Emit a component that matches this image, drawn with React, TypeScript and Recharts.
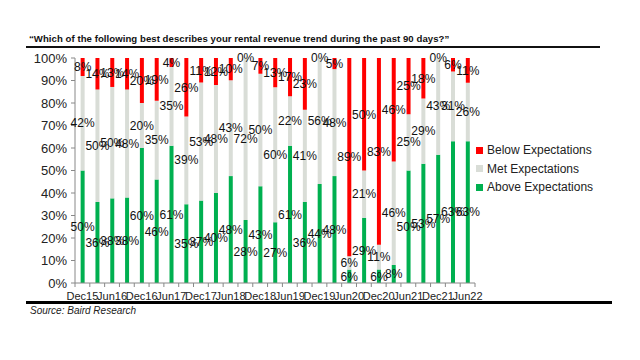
import React from "react";
import { BarChart, Bar, XAxis, YAxis, LabelList } from "recharts";

const categories = ["Dec15","Mar16","Jun16","Sep16","Dec16","Mar17","Jun17","Sep17","Dec17","Mar18","Jun18","Sep18","Dec18","Mar19","Jun19","Sep19","Dec19","Mar20","Jun20","Sep20","Dec20","Mar21","Jun21","Sep21","Dec21","Mar22","Jun22"];
const above = [50,36,38,38,60,46,61,35,37,40,48,28,43,27,61,36,44,48,6,29,6,8,50,53,57,63,63];
const met = [42,50,50,48,20,35,35,39,53,48,43,72,50,60,22,41,56,48,6,21,11,46,25,29,43,31,26];
const below = [8,14,13,14,20,19,4,26,11,12,10,0,7,13,17,23,0,5,89,50,83,46,25,18,0,6,11];
const yTicks = [0,0.1,0.2,0.3,0.4,0.5,0.6,0.7,0.8,0.9,1];
const seriesNames = ["Below Expectations", "Met Expectations", "Above Expectations"];

const data = categories.map((c, i) => ({ cat: c, above: above[i], met: met[i], below: below[i] }));

const FONT = "'Liberation Sans', Arial, sans-serif";
const GREEN = "#00B050";
const GREY = "#D9DDD7";
const RED = "#FF0000";
const legendColors = [RED, GREY, GREEN];

const X_H = 30;
const M = { top: 58, right: 165, bottom: 77 - X_H, left: 25 };
const Y_W = 50;
const W = 640, H = 360;
const step = (W - M.left - M.right - Y_W) / categories.length;

const XTick = (props: any) => {
  const { x, y, payload, index } = props;
  const last = index === categories.length - 1;
  return (
    <g>
      <line x1={x - step / 2} x2={x - step / 2} y1={y} y2={y + 4} stroke="#888" />
      {last && <line x1={x + step / 2} x2={x + step / 2} y1={y} y2={y + 4} stroke="#888" />}
      {index % 2 === 0 && (
        <text x={x} y={y + 17} textAnchor="middle" fontSize={11} fill="#222" fontFamily={FONT}>
          {payload.value}
        </text>
      )}
    </g>
  );
};

const fmt = (v: any) => `${v}%`;

// Met label, plus a "0%" label at the top for bars whose "below" segment is zero
const MetLabel = (props: any) => {
  const { x, y, width, height, value, index } = props;
  const cx = x + width / 2;
  return (
    <g>
      <text x={cx} y={y + height / 2} textAnchor="middle" dominantBaseline="central" fontSize={12} fill="#111" fontFamily={FONT}>
        {`${value}%`}
      </text>
      {below[index] === 0 && (
        <text x={cx} y={y} textAnchor="middle" dominantBaseline="central" fontSize={12} fill="#111" fontFamily={FONT}>
          {`${below[index]}%`}
        </text>
      )}
    </g>
  );
};

export default function App() {
  return (
    <div style={{ position: "absolute", left: 0, top: 0, width: W, height: H, background: "#fff", fontFamily: FONT }}>
      <div style={{ position: "absolute", left: 29, top: 33, fontSize: 9.6, fontWeight: "bold", color: "#111", whiteSpace: "nowrap", letterSpacing: 0.05 }}>
        “Which of the following best describes your rental revenue trend during the past 90 days?”
      </div>
      <div style={{ position: "absolute", left: 26, top: 46, width: 574, height: 2, background: "#111" }} />
      <BarChart width={W} height={H} data={data} margin={M} stackOffset="expand" barCategoryGap="38%">
        <XAxis dataKey="cat" height={X_H} interval={0} tickLine={false} tickSize={0} tickMargin={0} tick={<XTick />} stroke="#888" />
        <YAxis
          width={Y_W}
          domain={[0, 1]}
          ticks={yTicks}
          interval={0}
          tickFormatter={(v: number) => `${Math.round(v * 100)}%`}
          tick={{ fontSize: 13, fill: "#222", fontFamily: FONT }}
          tickSize={4}
          tickMargin={4}
          stroke="#888"
        />
        <Bar dataKey="above" stackId="a" fill={GREEN} isAnimationActive={false}>
          <LabelList dataKey="above" position="center" formatter={fmt} fill="#111" fontSize={12} fontFamily={FONT} />
        </Bar>
        <Bar dataKey="met" stackId="a" fill={GREY} isAnimationActive={false}>
          <LabelList dataKey="met" content={<MetLabel />} />
        </Bar>
        <Bar dataKey="below" stackId="a" fill={RED} isAnimationActive={false}>
          <LabelList dataKey="below" position="center" formatter={fmt} fill="#111" fontSize={12} fontFamily={FONT} />
        </Bar>
      </BarChart>
      <div style={{ position: "absolute", left: 476, top: 141, fontSize: 12, color: "#222" }}>
        {seriesNames.map((n, i) => (
          <div key={n} style={{ display: "flex", alignItems: "center", height: 18.5 }}>
            <span style={{ width: 7, height: 7, background: legendColors[i], display: "inline-block", marginRight: 4 }} />
            <span>{n}</span>
          </div>
        ))}
      </div>
      <div style={{ position: "absolute", left: 26, top: 301, width: 586, height: 3, background: "#000" }} />
      <div style={{ position: "absolute", left: 30, top: 305, fontSize: 10, fontStyle: "italic", color: "#222" }}>
        Source: Baird Research
      </div>
    </div>
  );
}
